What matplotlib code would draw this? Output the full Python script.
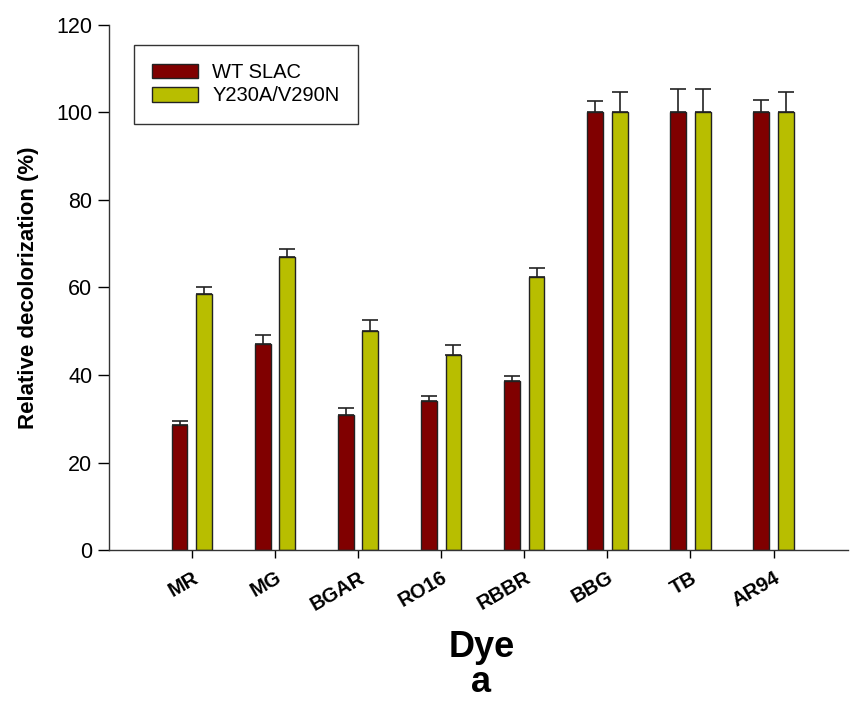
import matplotlib.pyplot as plt
import numpy as np

plt.rcParams['font.family'] = ['Liberation Sans', 'DejaVu Sans']

dyes = ["MR", "MG", "BGAR", "RO16", "RBBR", "BBG", "TB", "AR94"]
wt = [28.6, 47.1, 30.9, 34.0, 38.6, 100, 100, 100]
wt_err = [0.9, 2.1, 1.6, 1.2, 1.2, 2.6, 5.4, 2.9]
mut = [58.4, 67.0, 50.1, 44.6, 62.3, 100, 100, 100]
mut_err = [1.8, 1.8, 2.5, 2.2, 2.2, 4.7, 5.4, 4.7]

x = np.arange(len(dyes))
w = 0.19
off = 0.148

fig = plt.figure(figsize=(8.5, 7.02), dpi=100)
ax = fig.add_axes([0.128, 0.2165, 0.87, 0.748])

ekw = dict(ecolor="#222222", elinewidth=1.2, capsize=5.8, capthick=1.2)
ax.bar(x - off, wt, w, color="#800000", edgecolor="#222222", linewidth=1.0,
       yerr=[np.zeros(len(wt)), wt_err], error_kw=ekw, label="WT SLAC")
ax.bar(x + off, mut, w, color="#b8be00", edgecolor="#222222", linewidth=1.0,
       yerr=[np.zeros(len(mut)), mut_err], error_kw=ekw, label="Y230A/V290N")

ax.set_xlim(-1.0, 7.9)
ax.set_ylim(0, 120)
ax.set_yticks(np.arange(0, 121, 20))
ax.set_xticks(x)
ax.set_xticklabels(dyes, rotation=30, ha="right", rotation_mode="anchor",
                   fontsize=14.5, fontweight="bold")
for lab in ax.get_yticklabels():
    lab.set_fontsize(15.5)
ax.tick_params(axis="y", direction="out", length=8, width=1, pad=4)
ax.tick_params(axis="x", direction="out", length=6, width=1, pad=7)
ax.spines["top"].set_visible(False)
ax.spines["right"].set_visible(False)
for s in ["left", "bottom"]:
    ax.spines[s].set_linewidth(1.0)
    ax.spines[s].set_color("#333333")

ax.set_ylabel("Relative decolorization (%)", fontsize=16, fontweight="bold",
              labelpad=12)

leg = ax.legend(loc="upper left", bbox_to_anchor=(0.034, 0.962),
                borderaxespad=0, fontsize=14.5, frameon=True, fancybox=False,
                handlelength=2.3, handleheight=0.75, handletextpad=0.7,
                labelspacing=0.22, borderpad=0.9)
leg.get_frame().set_edgecolor("black")
leg.get_frame().set_linewidth(1.0)

fig.text(0.567, 0.064, "Dye", fontsize=26, fontweight="bold",
         ha="center", va="baseline")
fig.text(0.566, 0.014, "a", fontsize=26, fontweight="bold",
         ha="center", va="baseline")

fig.savefig("out.png", dpi=100)
